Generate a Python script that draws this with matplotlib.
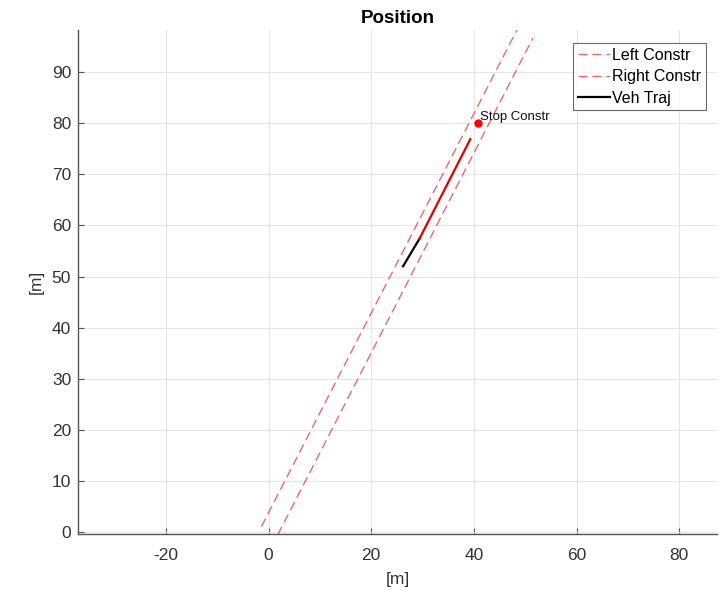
import matplotlib
matplotlib.use("Agg")
import matplotlib.pyplot as plt

plt.rcParams['font.family'] = ['Liberation Sans', 'DejaVu Sans']
plt.rcParams['axes.unicode_minus'] = False

# constraint lines (x, y)
left_x = [-1.4, 48.5]
left_y = [1.0, 98.5]
right_x = [1.8, 51.5]
right_y = [-0.6, 96.7]

# vehicle trajectory: past (black) and planned (red)
traj_x = [26.2, 29.4]
traj_y = [52.0, 57.4]
plan_x = [29.4, 39.3]
plan_y = [57.4, 76.9]

stop_x = 40.8
stop_y = 80.1

fig = plt.figure(figsize=(7.23, 5.90), dpi=100)
ax = fig.add_axes([0.108, 0.0944, 0.884, 0.854])

dash = (0, (6.5, 3.5))
ax.plot(left_x, left_y, color='#e03a3a', lw=1.0, ls=dash, alpha=0.75, label='Left Constr')
ax.plot(right_x, right_y, color='#e03a3a', lw=1.0, ls=dash, alpha=0.75, label='Right Constr')
ax.plot(traj_x, traj_y, color='black', lw=1.6, label='Veh Traj')
ax.plot(plan_x, plan_y, color='#e00000', lw=1.6)
ax.plot([stop_x], [stop_y], 'o', color='#ff0000', ms=5)
ax.text(stop_x + 0.3, stop_y + 1.2, 'Stop Constr', fontsize=9.5, color='#111111', va='center', ha='left')

ax.set_xlim(-37.1, 87.4)
ax.set_ylim(-0.5, 98.2)
ax.set_xticks(range(-20, 81, 20))
ax.set_yticks(range(0, 91, 10))
ax.grid(True, color='#e6e6e6', lw=0.8)
ax.set_axisbelow(True)
for s in ['top', 'right']:
    ax.spines[s].set_visible(False)
for s in ['left', 'bottom']:
    ax.spines[s].set_color('#555555')
    ax.spines[s].set_linewidth(1.0)
ax.tick_params(direction='in', length=4, colors='#555555', labelcolor='#333333', labelsize=12.5)
ax.tick_params(axis='x', pad=10)
ax.tick_params(axis='y', pad=5)

ax.set_xlabel('[m]', fontsize=12.5, color='#333333', labelpad=6)
ax.set_ylabel('[m]', fontsize=12.5, color='#333333', labelpad=6)
ax.set_title('Position', fontsize=13.5, fontweight='bold', pad=5)

leg = ax.legend(loc='upper right', bbox_to_anchor=(0.982, 0.975), fontsize=11.5, frameon=True,
                fancybox=False, handlelength=2.0, handletextpad=0.15, borderpad=0.3,
                labelspacing=0.4, borderaxespad=0)
leg.get_frame().set_edgecolor('#444444')
leg.get_frame().set_linewidth(0.8)

fig.savefig('out.png', dpi=100)
